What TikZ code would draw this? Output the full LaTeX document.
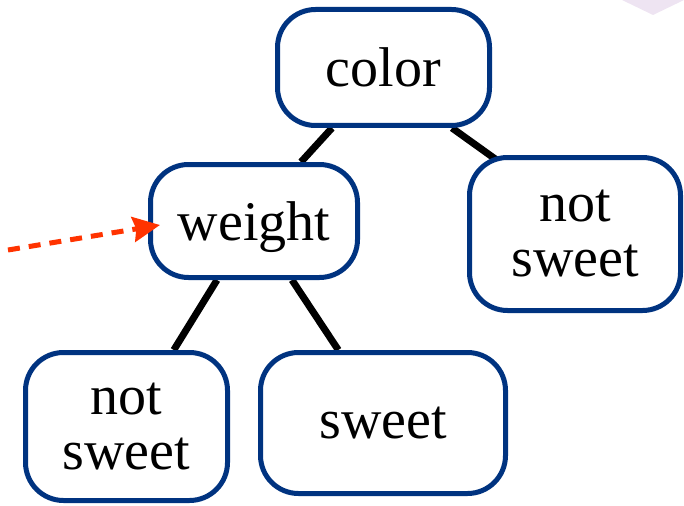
\documentclass[tikz,border=0pt]{standalone}
\usepackage{fontspec}
\setmainfont{Liberation Serif}
\usetikzlibrary{arrows.meta,backgrounds}
\definecolor{treeblue}{RGB}{0,51,128}
\definecolor{arrowred}{RGB}{255,51,0}
\definecolor{faintlilac}{RGB}{238,228,242}

\begin{document}
\begin{tikzpicture}[x=1pt,y=-1pt,line join=round]
\tikzstyle{box}=[draw=treeblue,line width=5pt,fill=white,rounded corners=38pt,align=center,inner sep=0pt,font=\fontsize{56}{55}\selectfont]
\tikzstyle{branch}=[line width=7pt,black]
\useasboundingbox (0,0) rectangle (684,505);
\fill [faintlilac] (622,0) -- (653,15) -- (684,0) -- cycle;

\node [box,minimum width=212pt,minimum height=116pt] (color) at (383.5,67.5) {color};
\node [box,minimum width=207pt,minimum height=113pt,text depth=0pt] (weight) at (254,221) {weight};
\node [box,minimum width=211pt,minimum height=153pt] (nsR) at (575,234) {not\\sweet};
\node [box,minimum width=202pt,minimum height=148pt] (nsL) at (126.5,426.5) {not\\sweet};
\node [box,minimum width=245pt,minimum height=141pt] (sweet) at (383,423) {sweet};

\begin{scope}[on background layer]
\draw [branch] ([xshift=-51.5pt]color.south) -- ([xshift=47pt]weight.north);
\draw [branch] ([xshift=68.5pt]color.south) -- ([xshift=-67.5pt,yshift=-12.75pt]nsR.north);
\draw [branch] ([xshift=-37pt]weight.south) -- ([xshift=47.3pt]nsL.north);
\draw [branch] ([xshift=38pt]weight.south) -- ([xshift=-44.7pt]sweet.north);
\end{scope}

\coordinate (src) at (8,250);
\draw [arrowred,line width=5pt,dash pattern=on 12pt off 9pt,-{Stealth[length=27pt,width=25pt,inset=3pt]}] (src) -- ([xshift=12pt,yshift=-4pt]weight.west);
\end{tikzpicture}
\end{document}
